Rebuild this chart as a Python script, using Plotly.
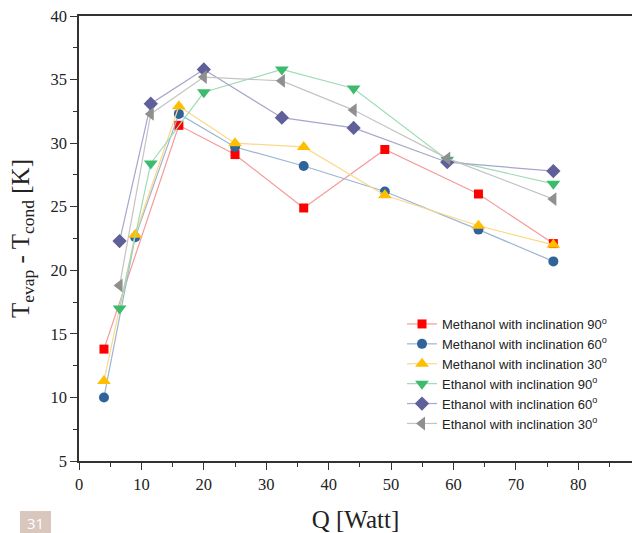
import plotly.graph_objects as go

# Methanol (Q values)
q_meth = [4, 9, 16, 25, 36, 49, 64, 76]
meth_90 = [13.8, None, 31.4, 29.1, 24.9, 29.5, 26.0, 22.1]
meth_60 = [10.0, 22.6, 32.3, 29.7, 28.2, 26.2, 23.2, 20.7]
meth_30 = [11.3, 22.8, 32.9, 30.0, 29.7, 25.9, 23.5, 22.0]

# Ethanol (Q values)
q_eth = [6.5, 11.5, 20, 32.5, 44, 59, 76]
eth_90 = [17.0, 28.4, 34.0, 35.8, 34.3, 28.7, 26.8]
eth_60 = [22.3, 33.1, 35.8, 32.0, 31.2, 28.5, 27.8]
eth_30 = [18.8, 32.3, 35.2, 34.9, 32.6, 28.8, 25.6]

names = [
    "Methanol with inclination 90<sup>o</sup>",
    "Methanol with inclination 60<sup>o</sup>",
    "Methanol with inclination 30<sup>o</sup>",
    "Ethanol with inclination 90<sup>o</sup>",
    "Ethanol with inclination 60<sup>o</sup>",
    "Ethanol with inclination 30<sup>o</sup>",
]

x_ticks = [0, 10, 20, 30, 40, 50, 60, 70, 80]
y_ticks = [5, 10, 15, 20, 25, 30, 35, 40]

series = [
    (q_meth, meth_90, "#ff0000", "#f59a9a", "square", 9),
    (q_meth, meth_60, "#2f6399", "#9db5d3", "circle", 10),
    (q_meth, meth_30, "#ffbf00", "#fbd98a", "triangle-up", 12),
    (q_eth, eth_90, "#3dbb6c", "#9fdcb4", "triangle-down", 12),
    (q_eth, eth_60, "#5f5f9a", "#a6a6cc", "diamond", 11),
    (q_eth, eth_30, "#8f8f8f", "#c4c4c4", "triangle-left", 12),
]

fig = go.Figure()
for (xs, ys, mc, lc, sym, sz), name in zip(series, names):
    xx = [a for a, b in zip(xs, ys) if b is not None]
    yy = [b for b in ys if b is not None]
    fig.add_trace(go.Scatter(
        x=xx, y=yy, mode="lines+markers", name=name,
        line=dict(color=lc, width=1.2),
        marker=dict(color=mc, symbol=sym, size=sz, line=dict(width=0)),
    ))

L, T, B = 79, 16, 461
W = 632 - L
H = B - T

def px(xp):
    return (xp - L) / W

def py(yp):
    return (B - yp) / H

axis_font = dict(family="Liberation Serif", size=16.5, color="#222222")
title_font = dict(family="Liberation Serif", size=25, color="#222222")
fig.update_layout(
    width=632, height=533,
    margin=dict(l=L, r=0, t=T, b=533 - B),
    paper_bgcolor="white", plot_bgcolor="white",
    showlegend=True,
    legend=dict(
        x=px(402), y=py(309), xanchor="left", yanchor="top",
        bgcolor="rgba(0,0,0,0)",
        font=dict(family="Liberation Sans", size=13, color="#222222"),
        tracegroupgap=0, itemwidth=30,
    ),
    xaxis=dict(
        range=[0, 88.6], tickvals=x_ticks, ticktext=[str(v) for v in x_ticks],
        showgrid=False, zeroline=False, automargin=False,
        showline=True, linecolor="#333333", linewidth=1.6, mirror=True,
        ticks="outside", ticklen=7, tickwidth=1.4, tickcolor="#333333",
        minor=dict(dtick=5, tick0=0, ticks="outside", ticklen=4, tickwidth=1.2, tickcolor="#333333"),
        tickfont=axis_font,
        title=dict(text="Q [Watt]", font=title_font, standoff=18),
    ),
    yaxis=dict(
        range=[5, 40], tickvals=y_ticks, ticktext=[str(v) for v in y_ticks],
        showgrid=False, zeroline=False, automargin=False,
        showline=True, linecolor="#333333", linewidth=1.6,
        ticks="outside", ticklen=7, tickwidth=1.4, tickcolor="#333333",
        minor=dict(dtick=2.5, tick0=5, ticks="outside", ticklen=4, tickwidth=1.2, tickcolor="#333333"),
        tickfont=axis_font,
        title=dict(text="T<sub>evap</sub> - T<sub>cond</sub> [K]", font=title_font, standoff=14),
    ),
    shapes=[dict(
        type="rect", xref="paper", yref="paper", layer="above",
        x0=px(20), x1=px(51), y0=py(511), y1=py(540),
        fillcolor="#d9c6bc", line=dict(width=0),
    )],
    annotations=[dict(
        text="31", xref="paper", yref="paper",
        x=px(35.5), y=py(522.5), xanchor="center", yanchor="middle",
        showarrow=False, font=dict(family="Open Sans", size=15, color="white"),
    )],
)

fig.write_html(
    "out.html",
    config={"displayModeBar": False},
    post_script="document.body.style.margin='0';document.body.style.overflow='hidden';",
)
